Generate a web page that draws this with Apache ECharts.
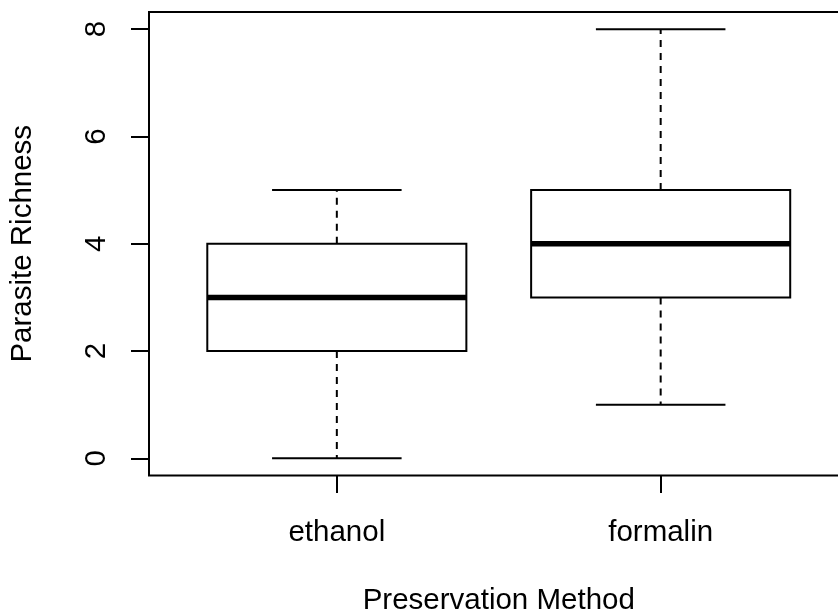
<!DOCTYPE html>
<html>
<head>
<meta charset="utf-8">
<title>Parasite Richness by Preservation Method</title>
<script src="https://cdn.jsdelivr.net/npm/echarts@6.0.0/dist/echarts.min.js"></script>
<style>
  html, body { margin: 0; padding: 0; background: #ffffff; }
  #chart { width: 838px; height: 615px; }
</style>
</head>
<body>
<div id="chart"></div>
<script>
// Five-number summaries per preservation method
const categories = ['ethanol', 'formalin'];
const lowerWhisker = [0, 1];
const lowerQuartile = [2, 3];
const medianValue = [3, 4];
const upperQuartile = [4, 5];
const upperWhisker = [5, 8];
const yTicks = [0, 2, 4, 6, 8];

const FONT = "'Liberation Sans', Arial, Helvetica, sans-serif";
const FONT_SIZE = 29.5;
const BOX_HALF = 0.4;    // half of box width, in x units
const CAP_HALF = 0.2;    // half of whisker cap width, in x units

const boxData = categories.map((c, i) => [
  i + 1, lowerWhisker[i], lowerQuartile[i], medianValue[i], upperQuartile[i], upperWhisker[i]
]);

function renderBox(params, api) {
  const x = api.value(0);
  const lo = api.value(1), q1 = api.value(2), md = api.value(3), q3 = api.value(4), hi = api.value(5);
  const p = (vx, vy) => api.coord([vx, vy]);
  const black = '#000000';
  const solid = { stroke: black, lineWidth: 2, fill: null };
  const dashed = { stroke: black, lineWidth: 2, lineDash: [7, 6], fill: null };

  const cLo = p(x, lo), cHi = p(x, hi), cQ1 = p(x, q1), cQ3 = p(x, q3);
  const bl = p(x - BOX_HALF, q3), br = p(x + BOX_HALF, q1);
  const mdL = p(x - BOX_HALF, md), mdR = p(x + BOX_HALF, md);
  const capLoL = p(x - CAP_HALF, lo), capLoR = p(x + CAP_HALF, lo);
  const capHiL = p(x - CAP_HALF, hi), capHiR = p(x + CAP_HALF, hi);

  return {
    type: 'group',
    children: [
      { type: 'line', shape: { x1: cQ1[0], y1: cQ1[1], x2: cLo[0], y2: cLo[1] }, style: dashed },
      { type: 'line', shape: { x1: cQ3[0], y1: cQ3[1], x2: cHi[0], y2: cHi[1] }, style: dashed },
      { type: 'line', shape: { x1: capLoL[0], y1: capLoL[1], x2: capLoR[0], y2: capLoR[1] }, style: solid },
      { type: 'line', shape: { x1: capHiL[0], y1: capHiL[1], x2: capHiR[0], y2: capHiR[1] }, style: solid },
      { type: 'rect', shape: { x: bl[0], y: bl[1], width: br[0] - bl[0], height: br[1] - bl[1] },
        style: { stroke: black, lineWidth: 2, fill: '#ffffff' } },
      { type: 'line', shape: { x1: mdL[0], y1: mdL[1], x2: mdR[0], y2: mdR[1] },
        style: { stroke: black, lineWidth: 5.5 } }
    ]
  };
}

const chart = echarts.init(document.getElementById('chart'), null, { renderer: 'canvas' });
chart.setOption({
  animation: false,
  backgroundColor: '#ffffff',
  grid: {
    left: 149, top: 12, width: 699.5, height: 463.5,
    outerBoundsMode: 'none',
    containLabel: false,
    show: true, borderColor: '#000000', borderWidth: 2, backgroundColor: 'transparent'
  },
  xAxis: {
    type: 'value',
    min: 0.42, max: 2.58,
    name: 'Preservation Method',
    nameLocation: 'middle',
    nameGap: 110,
    nameTextStyle: { color: '#000', fontFamily: FONT, fontSize: FONT_SIZE, lineHeight: 30 },
    axisLine: { show: false, onZero: false },
    splitLine: { show: false },
    axisTick: { show: true, length: 17.5, customValues: [1, 2], lineStyle: { color: '#000', width: 2 } },
    axisLabel: {
      show: true, customValues: [1, 2], margin: 42.5,
      color: '#000', fontFamily: FONT, fontSize: FONT_SIZE, lineHeight: 30,
      formatter: v => categories[Math.round(v) - 1]
    }
  },
  yAxis: {
    type: 'value',
    min: -0.32, max: 8.32,
    name: 'Parasite Richness',
    nameLocation: 'middle',
    nameRotate: 90,
    nameGap: 111,
    nameTextStyle: { color: '#000', fontFamily: FONT, fontSize: FONT_SIZE, lineHeight: 30 },
    axisLine: { show: false, onZero: false },
    splitLine: { show: false },
    axisTick: { show: true, length: 18, customValues: yTicks, lineStyle: { color: '#000', width: 2 } },
    axisLabel: {
      show: true, customValues: yTicks, rotate: 90, margin: 37,
      color: '#000', fontFamily: FONT, fontSize: FONT_SIZE, lineHeight: 30
    }
  },
  series: [{
    type: 'custom',
    renderItem: renderBox,
    data: boxData,
    encode: { x: 0, y: [1, 2, 3, 4, 5] },
    clip: false
  }]
});
</script>
</body>
</html>
